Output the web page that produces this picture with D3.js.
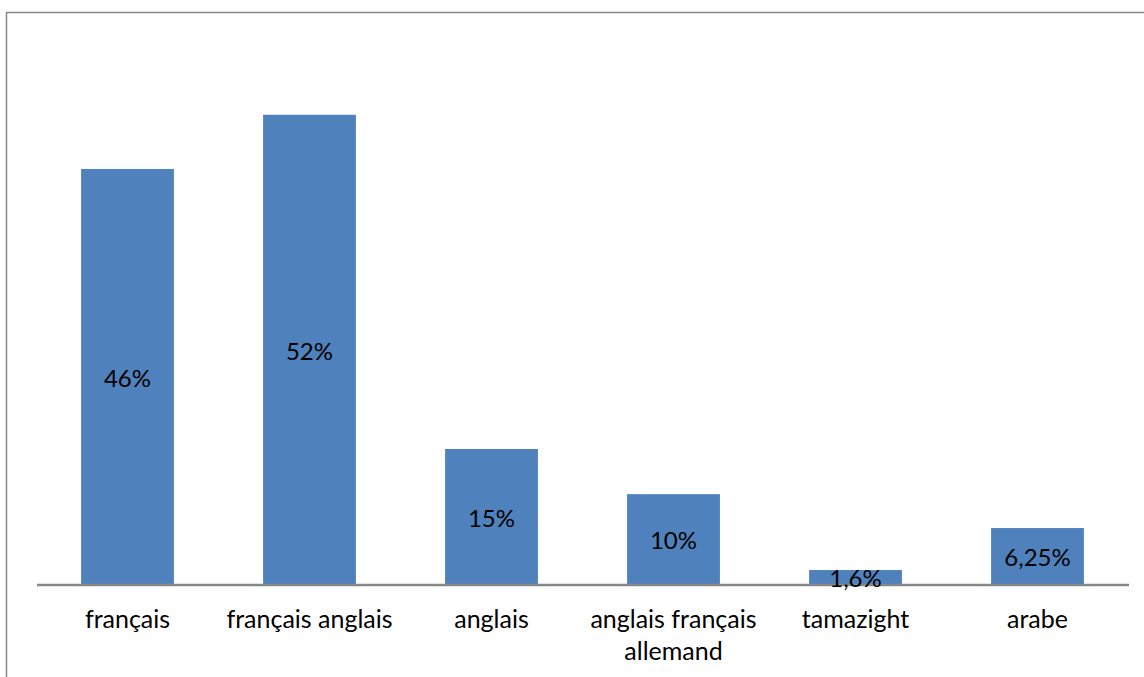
<!DOCTYPE html>
<html><head><meta charset="utf-8">
<script src="https://cdn.jsdelivr.net/npm/d3@7"></script>
<style>html,body{margin:0;padding:0;background:#fff;}svg{display:block;}</style>
</head><body>
<svg id="chart" width="1144" height="677"></svg>
<script>
const categories = ["français", "français anglais", "anglais", "anglais français allemand", "tamazight", "arabe"];
const categoryLines = [["français"], ["français anglais"], ["anglais"], ["anglais français", "allemand"], ["tamazight"], ["arabe"]];
const values = [46, 52, 15, 10, 1.6, 6.25];
const valueLabels = ["46%", "52%", "15%", "10%", "1,6%", "6,25%"];

const svg = d3.select("#chart");
const font = "Lato, 'Open Sans', sans-serif";

// outer chart border (extends past right and bottom edges)
svg.append("rect").attr("x", 6.5).attr("y", 12.5).attr("width", 1160).attr("height", 700)
  .attr("fill", "#fff").attr("stroke", "#868686").attr("stroke-width", 1.5);

const x = d3.scaleBand().domain(categories).range([36.5, 1128.5]).paddingInner(0.49).paddingOuter(0.245);
const y = d3.scaleLinear().domain([0, 60]).range([584.5, 42.5]);

svg.append("g").selectAll("rect").data(values).join("rect")
  .attr("x", (d, i) => x(categories[i]))
  .attr("y", d => y(d))
  .attr("width", x.bandwidth())
  .attr("height", d => y(0) - y(d))
  .attr("fill", "#4F81BD");

// baseline axis
const axis = d3.axisBottom(x).tickSize(0).tickFormat("");
const gx = svg.append("g").attr("transform", `translate(0,${y(0)})`).call(axis);
gx.select(".domain").attr("stroke", "#868686").attr("stroke-width", 2.5);

// category labels
const lab = svg.append("g").selectAll("text").data(categories).join("text")
  .attr("x", d => x(d) + x.bandwidth() / 2)
  .attr("y", 628)
  .attr("text-anchor", "middle")
  .attr("font-family", font).attr("font-size", 25).attr("fill", "#000");
lab.each(function(d, i) {
  const t = d3.select(this);
  categoryLines[i].forEach((ln, j) => {
    t.append("tspan").attr("x", x(d) + x.bandwidth() / 2).attr("dy", j === 0 ? 0 : 32).text(ln);
  });
});

// value labels
svg.append("g").selectAll("text").data(values).join("text")
  .attr("x", (d, i) => x(categories[i]) + x.bandwidth() / 2)
  .attr("y", d => (y(d) + y(0)) / 2 + 10)
  .attr("text-anchor", "middle")
  .attr("font-family", font).attr("font-size", 24).attr("fill", "#000")
  .text((d, i) => valueLabels[i]);
</script>
</body></html>
